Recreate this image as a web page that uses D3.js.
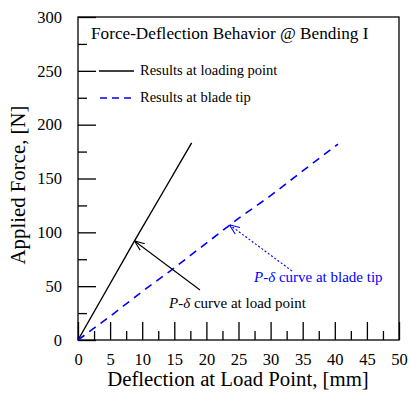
<!DOCTYPE html>
<html>
<head>
<meta charset="utf-8">
<script src="https://cdn.jsdelivr.net/npm/d3@7"></script>
<style>
  body { margin: 0; background: #fff; }
  svg { display: block; font-family: "Liberation Serif", "Times New Roman", serif; }
</style>
</head>
<body>
<svg id="chart" width="410" height="396"></svg>
<script>
// Force-deflection results, deflection in mm and applied force in N
const loadPointDeflection = [0, 4.4, 8.8, 13.2, 17.7];
const loadPointForce      = [0, 46, 92, 137, 183];
const bladeTipDeflection  = [0, 5, 10, 15, 20, 25, 30, 35, 40.5];
const bladeTipForce       = [0, 22, 45, 67, 90, 113, 134, 157, 182];

const xTicks = [0, 5, 10, 15, 20, 25, 30, 35, 40, 45, 50];
const yTicks = [0, 50, 100, 150, 200, 250, 300];

// Points on each curve that the annotations point to
const loadPointMark = [8.8, 92];
const bladeTipMark  = [23.6, 107];

const svg = d3.select("#chart");
const plot = { left: 78, right: 399, top: 17, bottom: 340 };

const x = d3.scaleLinear().domain([0, 50]).range([plot.left, plot.right]);
const y = d3.scaleLinear().domain([0, 300]).range([plot.bottom, plot.top]);

// Frame
svg.append("rect")
  .attr("x", plot.left).attr("y", plot.top)
  .attr("width", plot.right - plot.left).attr("height", plot.bottom - plot.top)
  .attr("fill", "none").attr("stroke", "#000").attr("stroke-width", 1.3);

// Inward ticks: long majors, short minors
const xMinor = d3.range(2.5, 50, 5);
const yMinor = d3.range(25, 300, 50);

const xAxis = svg.append("g").attr("transform", `translate(0,${plot.bottom})`)
  .call(d3.axisBottom(x).tickValues(xTicks).tickSizeInner(-18).tickSizeOuter(0).tickPadding(13));
xAxis.select(".domain").remove();
xAxis.selectAll(".tick line").attr("stroke-width", 1.3);
xAxis.selectAll(".tick text").attr("font-size", 16.5).attr("font-family", "Liberation Serif").attr("fill", "#000");

const xAxisMinor = svg.append("g").attr("transform", `translate(0,${plot.bottom})`)
  .call(d3.axisBottom(x).tickValues(xMinor).tickSizeInner(-9).tickSizeOuter(0).tickFormat(""));
xAxisMinor.select(".domain").remove();
xAxisMinor.selectAll(".tick line").attr("stroke-width", 1.3);

const yAxis = svg.append("g").attr("transform", `translate(${plot.left},0)`)
  .call(d3.axisLeft(y).tickValues(yTicks).tickSizeInner(-18).tickSizeOuter(0).tickPadding(16));
yAxis.select(".domain").remove();
yAxis.selectAll(".tick line").attr("stroke-width", 1.3);
yAxis.selectAll(".tick text").attr("font-size", 16.5).attr("font-family", "Liberation Serif").attr("fill", "#000");

const yAxisMinor = svg.append("g").attr("transform", `translate(${plot.left},0)`)
  .call(d3.axisLeft(y).tickValues(yMinor).tickSizeInner(-9).tickSizeOuter(0).tickFormat(""));
yAxisMinor.select(".domain").remove();
yAxisMinor.selectAll(".tick line").attr("stroke-width", 1.3);

// Curves
const line = d3.line().x(d => x(d[0])).y(d => y(d[1]));
svg.append("path")
  .datum(d3.zip(loadPointDeflection, loadPointForce))
  .attr("d", line).attr("fill", "none").attr("stroke", "#000").attr("stroke-width", 1.4);
svg.append("path")
  .datum(d3.zip(bladeTipDeflection, bladeTipForce))
  .attr("d", line).attr("fill", "none").attr("stroke", "#0000ff")
  .attr("stroke-width", 1.6).attr("stroke-dasharray", "8,6");

// Axis titles
svg.append("text").attr("x", 238).attr("y", 386)
  .attr("text-anchor", "middle").attr("font-size", 20.8).text("Deflection at Load Point, [mm]");
svg.append("text").attr("transform", "translate(25,185) rotate(-90)")
  .attr("text-anchor", "middle").attr("font-size", 20.8).text("Applied Force, [N]");

// Title and legend
svg.append("text").attr("x", 91).attr("y", 39).attr("font-size", 17.2)
  .text("Force-Deflection Behavior @ Bending I");
svg.append("line").attr("x1", 99).attr("x2", 134).attr("y1", 71).attr("y2", 71)
  .attr("stroke", "#000").attr("stroke-width", 1.4);
svg.append("text").attr("x", 140).attr("y", 75).attr("font-size", 14.5)
  .text("Results at loading point");
svg.append("line").attr("x1", 100).attr("x2", 135).attr("y1", 98).attr("y2", 98)
  .attr("stroke", "#0000ff").attr("stroke-width", 1.5).attr("stroke-dasharray", "7,5");
svg.append("text").attr("x", 140).attr("y", 102).attr("font-size", 14.5)
  .text("Results at blade tip");

// Open arrowheads for the annotations
const defs = svg.append("defs");
function arrowMarker(id, color) {
  defs.append("marker").attr("id", id)
    .attr("viewBox", "0 0 10 10").attr("refX", 10).attr("refY", 5)
    .attr("markerWidth", 10).attr("markerHeight", 10)
    .attr("markerUnits", "userSpaceOnUse").attr("orient", "auto")
    .append("path").attr("d", "M0,1 L10,5 L0,9")
    .attr("fill", "none").attr("stroke", color).attr("stroke-width", 1.1);
}
arrowMarker("arrowBlack", "#000");
arrowMarker("arrowBlue", "#0000ff");

svg.append("line")
  .attr("x1", 200).attr("y1", 290)
  .attr("x2", x(loadPointMark[0])).attr("y2", y(loadPointMark[1]))
  .attr("stroke", "#000").attr("stroke-width", 1.1).attr("marker-end", "url(#arrowBlack)");
svg.append("line")
  .attr("x1", 292).attr("y1", 271)
  .attr("x2", x(bladeTipMark[0])).attr("y2", y(bladeTipMark[1]))
  .attr("stroke", "#0000ff").attr("stroke-width", 1.1).attr("stroke-dasharray", "2,2")
  .attr("marker-end", "url(#arrowBlue)");

// Annotation labels
const t1 = svg.append("text").attr("x", 169).attr("y", 308).attr("font-size", 15).attr("fill", "#000");
t1.append("tspan").attr("font-style", "italic").text("P-δ");
t1.append("tspan").text(" curve at load point");
const t2 = svg.append("text").attr("x", 254).attr("y", 282).attr("font-size", 15).attr("fill", "#0000ff");
t2.append("tspan").attr("font-style", "italic").text("P-δ");
t2.append("tspan").text(" curve at blade tip");
</script>
</body>
</html>
